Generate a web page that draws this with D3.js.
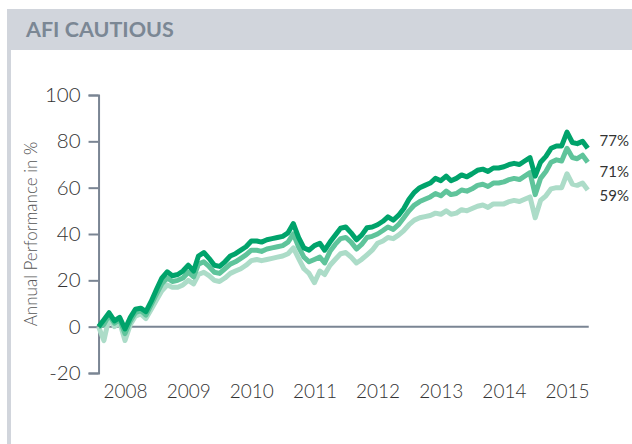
<!DOCTYPE html>
<html>
<head>
<meta charset="utf-8">
<script src="https://cdn.jsdelivr.net/npm/d3@7"></script>
<style>
  body { margin: 0; background: #fff; }
  svg { display: block; font-family: Lato, "Open Sans", sans-serif; }
</style>
</head>
<body>
<div id="chart"></div>
<script>
let width = 632,
    height = 444;

// monthly points, Aug 2007 .. May 2015
const startMonth = new Date(2007, 7, 1);
const years = [2008, 2009, 2010, 2011, 2012, 2013, 2014, 2015];
const yTicks = [-20, 0, 20, 40, 60, 80, 100];

const darkValues = [
  0, 3, 6, 2.5, 4, -1, 4, 7.5, 8, 6.5, 11, 16, 21, 23.7, 22, 22.5, 24, 26.5, 24, 30.5,
  32, 29.5, 26.5, 26, 28, 30.5, 31.5, 33, 34.5, 37, 37, 36.5, 37.5, 38, 38.5, 39, 40.5, 44.5, 38.5, 34,
  33, 35, 36, 33, 36.5, 39.5, 42.5, 43, 40.5, 37.5, 39.5, 42.7, 43, 44, 45.5, 47.4, 46, 48, 51, 55,
  58, 60, 61, 62, 64, 63, 65, 63, 64, 65.5, 64.7, 66, 67.5, 68, 67, 68.5, 68.5, 69, 70, 70.5,
  70, 71.5, 73, 65, 71, 73.5, 77, 78, 78, 84, 79.5, 79, 80, 77
];
const midValues = [
  0, 1, 5, 1.5, 3, -3, 2.5, 6, 7, 5, 9.5, 14, 18.5, 21, 19.5, 20, 21, 23.5, 21.5, 27,
  28, 26, 23.5, 23, 25, 27, 28, 29.5, 31, 33, 33, 32.5, 33.5, 34, 34.5, 35, 36.5, 40, 34.5, 30,
  28, 29, 30, 27.5, 32.5, 35.5, 38, 38.5, 36.5, 33.5, 35.5, 38.5, 39, 40, 41.5, 43, 42, 44, 47, 50,
  52.5, 54, 55, 56, 57.5, 56.5, 58.5, 57, 57.5, 59, 58.5, 59.5, 61, 61.5, 60.5, 62, 62, 62.5, 63.5, 64,
  63.5, 65, 66.5, 57, 64, 67, 71, 72, 71.5, 77, 73, 72.5, 74, 71
];
const lightValues = [
  0, -6, 4, 0, 2, -6, 1, 4.5, 5.5, 3.5, 7.5, 11.5, 15.5, 18, 17, 17, 18, 20, 18.5, 22.5,
  23.5, 22, 20, 19.5, 21, 23, 24, 25, 26.5, 28.5, 29, 28.5, 29, 29.5, 30, 30.5, 31.5, 34, 29.5, 25,
  23, 19, 24, 22.5, 26.5, 29, 31.5, 32, 30, 27.5, 29, 31, 33, 36, 37, 38.5, 38, 39.5, 41.5, 44,
  46, 47, 47.5, 48, 49, 48.5, 50, 48.5, 49, 50.5, 50, 51, 52, 52.5, 51.5, 53, 53, 53, 54, 54.5,
  54, 55, 56, 47, 54.5, 56.5, 59.5, 60, 60, 66, 61.5, 61, 62, 59
];

const seriesNames = ["light", "mid", "dark"];
const seriesColors = ["#acdcc8", "#5fc49b", "#00a36b"];
const endLabels = ["59%", "71%", "77%"];

const dates = darkValues.map((_, i) => d3.timeMonth.offset(startMonth, i));

const svg = d3.select("#chart")
  .append("svg")
  .attr("width", width)
  .attr("height", height);

// card frame: header band + left rule
svg.append("rect")
  .attr("x", 7).attr("y", 9)
  .attr("width", width - 7).attr("height", 41)
  .attr("fill", "#d1d5dc");
svg.append("rect")
  .attr("x", 7).attr("y", 50)
  .attr("width", 4).attr("height", height - 50)
  .attr("fill", "#d1d5dc");

svg.append("text")
  .attr("x", 26).attr("y", 37)
  .attr("font-size", 21.5)
  .attr("font-weight", 700)
  .attr("fill", "#7b8794")
  .text("AFI CAUTIOUS");

let x = d3.scaleTime()
  .domain([new Date(2008, 0, 1), new Date(2015, 0, 1)])
  .range([125, 567]);

let y = d3.scaleLinear()
  .domain([-20, 100])
  .range([373, 95]);

// y axis
const yAxis = svg.append("g")
  .attr("transform", `translate(${x(startMonth)},0)`)
  .call(d3.axisLeft(y)
    .tickValues(yTicks)
    .tickFormat(d => String(d))
    .tickSize(10)
    .tickPadding(8));
yAxis.selectAll("path, line").attr("stroke", "#7a8593").attr("stroke-width", 2);
yAxis.selectAll("text")
  .attr("font-size", 20.5)
  .attr("font-weight", 300)
  .attr("fill", "#333")
  .attr("font-family", "Lato, 'Open Sans', sans-serif");

// zero line
svg.append("line")
  .attr("x1", x(startMonth))
  .attr("x2", x(dates[dates.length - 1]) + 1)
  .attr("y1", y(0)).attr("y2", y(0))
  .attr("stroke", "#7a8593")
  .attr("stroke-width", 2);

// year labels below the plot
const xAxis = svg.append("g")
  .attr("transform", `translate(0,${y(-20)})`)
  .call(d3.axisBottom(x)
    .tickValues(years.map(yr => new Date(yr, 0, 1)))
    .tickFormat(d3.timeFormat("%Y"))
    .tickSize(0)
    .tickPadding(12));
xAxis.select(".domain").remove();
xAxis.selectAll("text")
  .attr("font-size", 19)
  .attr("font-weight", 300)
  .attr("fill", "#333")
  .attr("font-family", "Lato, 'Open Sans', sans-serif");

svg.append("text")
  .attr("transform", `translate(37,${y(40)}) rotate(-90)`)
  .attr("text-anchor", "middle")
  .attr("font-size", 17)
  .attr("font-weight", 300)
  .attr("fill", "#555")
  .text("Annual Performance in %");

let line = d3.line()
  .x((d, i) => x(dates[i]))
  .y(d => y(d));

const allValues = [lightValues, midValues, darkValues];
const labelNudge = [7, 11, -6];

allValues.forEach((vals, k) => {
  svg.append("path")
    .datum(vals)
    .attr("class", seriesNames[k])
    .attr("fill", "none")
    .attr("stroke", seriesColors[k])
    .attr("stroke-width", 5)
    .attr("stroke-linejoin", "round")
    .attr("d", line);

  svg.append("text")
    .attr("x", 629)
    .attr("y", y(vals[vals.length - 1]) + labelNudge[k])
    .attr("text-anchor", "end")
    .attr("dominant-baseline", "middle")
    .attr("font-size", 15)
    .attr("fill", "#333")
    .text(endLabels[k]);
});
</script>
</body>
</html>
